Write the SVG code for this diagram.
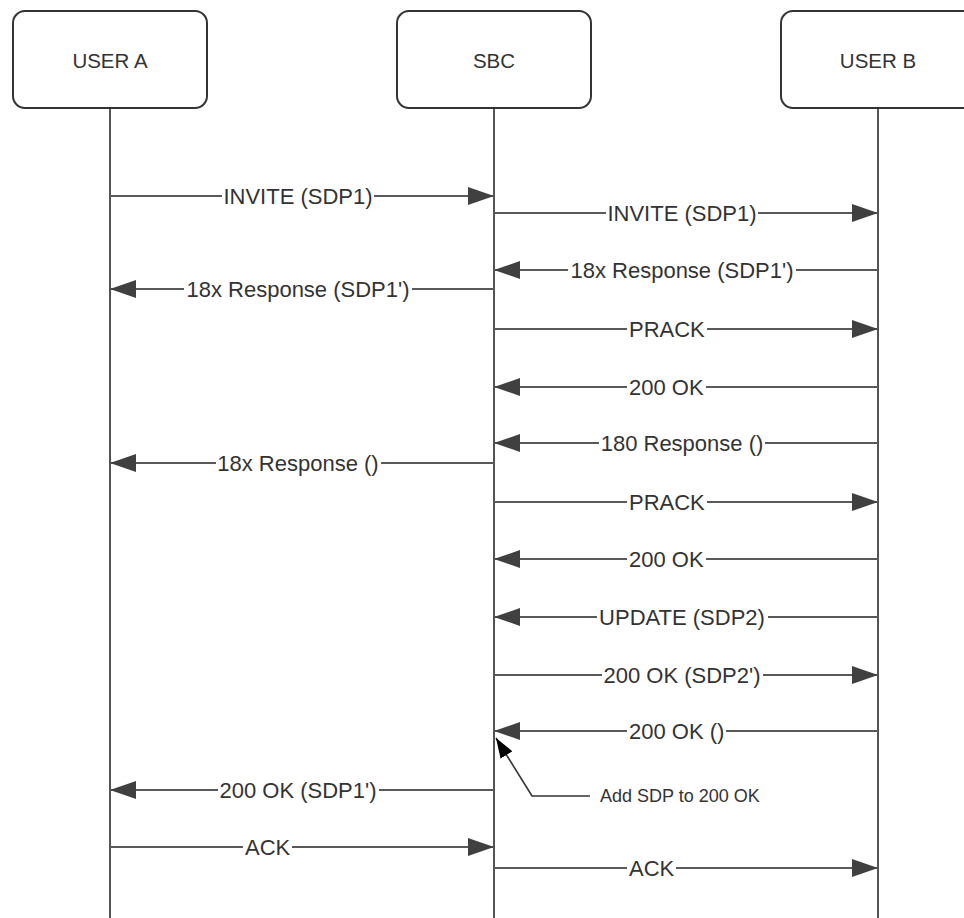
<svg xmlns="http://www.w3.org/2000/svg" width="964" height="918" viewBox="0 0 964 918">
<defs>
<style>
.box{fill:#fff;stroke:#333;stroke-width:2}
.life{stroke:#555;stroke-width:2;fill:none}
.msg{stroke:#595959;stroke-width:2;fill:none;marker-end:url(#ah)}
.bg{fill:#fff}
.t{font-family:"Liberation Sans",Arial,sans-serif;font-size:22px;fill:#333}
.m{text-anchor:middle}
.hd{font-family:"Liberation Sans",Arial,sans-serif;font-size:20.5px;fill:#333;text-anchor:middle}
.note{font-family:"Liberation Sans",Arial,sans-serif;font-size:18px;fill:#333}
.call{stroke:#333;stroke-width:1.6;fill:none;marker-end:url(#bh)}
</style>
<marker id="ah" markerUnits="userSpaceOnUse" markerWidth="26" markerHeight="18" refX="26" refY="9" orient="auto" viewBox="0 0 26 18">
<path d="M0,0 L26,9 L0,18 z" fill="#404040"/>
</marker>
<marker id="bh" markerUnits="userSpaceOnUse" markerWidth="20" markerHeight="14" refX="20" refY="7" orient="auto" viewBox="0 0 20 14">
<path d="M0,0 L20,7 L0,14 z" fill="#000"/>
</marker>
</defs>
<rect width="964" height="918" fill="#fff"/>

<g id="userA">
<line class="life" x1="110" y1="108" x2="110" y2="918"/>
<rect class="box" x="13" y="11" width="194" height="97" rx="12"/>
<text class="hd" x="110" y="68">USER A</text>
</g>
<g id="sbc">
<line class="life" x1="494" y1="108" x2="494" y2="918"/>
<rect class="box" x="397" y="11" width="194" height="97" rx="12"/>
<text class="hd" x="494" y="68">SBC</text>
</g>
<g id="userB">
<line class="life" x1="878" y1="108" x2="878" y2="918"/>
<rect class="box" x="781" y="11" width="194" height="97" rx="12"/>
<text class="hd" x="878" y="68">USER B</text>
</g>

<g id="connectors">
<line class="msg" x1="110" y1="196" x2="494" y2="196"/>
<rect class="bg" x="222" y="185" width="152" height="22"/>
<text class="t m" x="298" y="204">INVITE (SDP1)</text>

<line class="msg" x1="494" y1="213" x2="878" y2="213"/>
<rect class="bg" x="606" y="202" width="152" height="22"/>
<text class="t m" x="682" y="221">INVITE (SDP1)</text>

<line class="msg" x1="878" y1="270" x2="494" y2="270"/>
<rect class="bg" x="568" y="259" width="228" height="22"/>
<text class="t m" x="682" y="278">18x Response (SDP1')</text>

<line class="msg" x1="494" y1="289" x2="110" y2="289"/>
<rect class="bg" x="184" y="278" width="228" height="22"/>
<text class="t m" x="298" y="297">18x Response (SDP1')</text>

<line class="msg" x1="494" y1="329" x2="878" y2="329"/>
<rect class="bg" x="627" y="318" width="80" height="22"/>
<text class="t" x="629" y="337">PRACK</text>

<line class="msg" x1="878" y1="387" x2="494" y2="387"/>
<rect class="bg" x="627" y="376" width="79" height="22"/>
<text class="t" x="629" y="395">200 OK</text>

<line class="msg" x1="878" y1="443" x2="494" y2="443"/>
<rect class="bg" x="599" y="432" width="166" height="22"/>
<text class="t m" x="682" y="451">180 Response ()</text>

<line class="msg" x1="494" y1="463" x2="110" y2="463"/>
<rect class="bg" x="216" y="452" width="165" height="22"/>
<text class="t m" x="298" y="471">18x Response ()</text>

<line class="msg" x1="494" y1="502" x2="878" y2="502"/>
<rect class="bg" x="627" y="491" width="80" height="22"/>
<text class="t" x="629" y="510">PRACK</text>

<line class="msg" x1="878" y1="559" x2="494" y2="559"/>
<rect class="bg" x="627" y="548" width="79" height="22"/>
<text class="t" x="629" y="567">200 OK</text>

<line class="msg" x1="878" y1="617" x2="494" y2="617"/>
<rect class="bg" x="597" y="606" width="171" height="22"/>
<text class="t m" x="682" y="625">UPDATE (SDP2)</text>

<line class="msg" x1="494" y1="675" x2="878" y2="675"/>
<rect class="bg" x="602" y="664" width="161" height="22"/>
<text class="t m" x="682" y="683">200 OK (SDP2')</text>

<line class="msg" x1="878" y1="731" x2="494" y2="731"/>
<rect class="bg" x="627" y="720" width="99" height="22"/>
<text class="t" x="629" y="739">200 OK ()</text>

<line class="msg" x1="494" y1="790" x2="110" y2="790"/>
<rect class="bg" x="218" y="779" width="161" height="22"/>
<text class="t m" x="298" y="798">200 OK (SDP1')</text>

<line class="msg" x1="110" y1="847" x2="494" y2="847"/>
<rect class="bg" x="243" y="836" width="49" height="22"/>
<text class="t" x="245" y="855">ACK</text>

<line class="msg" x1="494" y1="868" x2="878" y2="868"/>
<rect class="bg" x="627" y="857" width="49" height="22"/>
<text class="t" x="629" y="876">ACK</text>

<polyline class="call" points="590,796 532,796 496,738"/>
<text class="note" x="600" y="802">Add SDP to 200 OK</text>
</g>
</svg>
